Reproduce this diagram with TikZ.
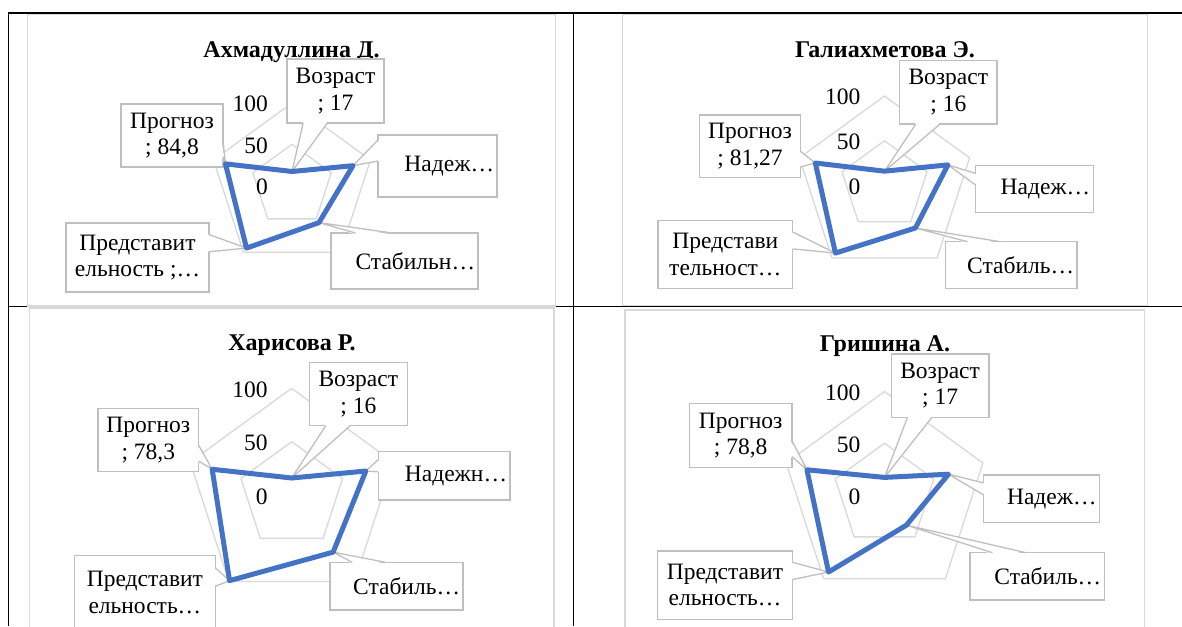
\documentclass[tikz,border=0pt]{standalone}
\usepackage{fontspec}
\setmainfont{Liberation Serif}
\usetikzlibrary{calc}
\definecolor{gridc}{HTML}{D9D9D9}
\definecolor{boxc}{HTML}{BFBFBF}
\definecolor{serc}{HTML}{4472C4}
\tikzset{
  tline/.style={draw=black, line width=1.7pt},
  chartframe/.style={draw=gridc, line width=1.5pt, fill=white},
  gridl/.style={draw=gridc, line width=1.3pt, line join=round},
  axl/.style={anchor=east, inner sep=0pt, font=\fontsize{23.5}{26.5}\selectfont},
  ttl/.style={anchor=base, inner sep=0pt, font=\fontsize{24}{28}\selectfont\bfseries},
  cb/.style={draw=boxc, fill=white, line width=1.3pt, align=center, inner sep=0pt, outer sep=0pt, font=\fontsize{23.5}{26.5}\selectfont},
  cline/.style={draw=boxc, line width=1.3pt, line join=round},
  serl/.style={draw=serc, line width=5pt, line join=round, line cap=round},
}
% generic wedge tail of a callout
\newcommand\calltail[6]{%
  \fill[white] ($(#1)!#3!(#2)+(#6)$) -- (#5) -- ($(#1)!#4!(#2)+(#6)$) -- cycle;
  \draw[cline] ($(#1)!#3!(#2)$) -- (#5) -- ($(#1)!#4!(#2)$);}
\newcommand\tailBot[4]{\calltail{#1.south west}{#1.south east}{#2}{#3}{#4}{0,-1.5}}
\newcommand\tailTop[4]{\calltail{#1.north west}{#1.north east}{#2}{#3}{#4}{0,1.5}}
\newcommand\tailLeft[4]{\calltail{#1.north west}{#1.south west}{#2}{#3}{#4}{1.5,0}}
\newcommand\tailRight[4]{\calltail{#1.north east}{#1.south east}{#2}{#3}{#4}{-1.5,0}}
% radar grid + data coordinates
\newcommand\radar[9]{%
  \begin{scope}[shift={(#2,#3)}]
    \draw[gridl] ({-90}:{#4/2}) -- ({-18}:{#4/2}) -- ({54}:{#4/2}) -- ({126}:{#4/2}) -- ({198}:{#4/2}) -- cycle;
    \draw[gridl] ({-90}:{#4}) -- ({-18}:{#4}) -- ({54}:{#4}) -- ({126}:{#4}) -- ({198}:{#4}) -- cycle;
    \node[axl] (#1-l0) at (-24,1.5) {0};
    \node[axl] (#1-l50) at (-24,{-#4/2+1.5}) {50};
    \node[axl] (#1-l100) at (-24,{-#4+1}) {100};
    \coordinate (#1-1) at ({-90}:{#4*#5/100});
    \coordinate (#1-2) at ({-18}:{#4*#6/100});
    \coordinate (#1-3) at ({54}:{#4*#7/100});
    \coordinate (#1-4) at ({126}:{#4*#8/100});
    \coordinate (#1-5) at ({198}:{#4*#9/100});
  \end{scope}}
\newcommand\series[1]{\draw[serl] (#1-1) -- (#1-2) -- (#1-3) -- (#1-4) -- (#1-5) -- cycle;}

\begin{document}
\begin{tikzpicture}[x=1pt, y=-1pt]
\useasboundingbox (0,0) rectangle (1182,626);
\fill[white] (0,0) rectangle (1182,626);

% table rules
\draw[tline] (8.5,626) -- (8.5,13.2) -- (1182,13.2);
\draw[tline] (573.5,13.2) -- (573.5,626);
\draw[tline] (8.5,306.5) -- (1182,306.5);

% chart frames
\draw[chartframe] (27.5,14.6) rectangle (555.5,305.8);
\draw[chartframe] (622.5,14.6) rectangle (1147.5,305.6);
\draw[chartframe] (29.5,308.2) rectangle (554,640);
\draw[chartframe] (625,309.8) rectangle (1144.7,640);

% ---------------- chart A ----------------
\radar{A}{292}{185.5}{82.5}{17}{77.7}{55.6}{93.8}{84.8}
\node[ttl] (At) at (291.5,57) {Ахмадуллина Д.};
\node[cb, minimum width=97pt, minimum height=64pt] (Aa) at (335.5,91) {Возраст\\; 17};
\node[cb, minimum width=102pt, minimum height=63pt] (Ab) at (172,135.5) {Прогноз\\; 84,8};
\node[cb, text width=113pt, align=right, inner xsep=3pt, minimum height=62pt] (Ac) at (437.5,166) {Надеж…};
\node[cb, text width=141pt, align=right, inner xsep=3pt, minimum height=56pt] (Ad) at (404.5,261) {Стабильн…};
\node[cb, minimum width=143pt, minimum height=69pt] (Ae) at (137.5,257.5) {Представит\\ельность ;…};
\tailBot{Aa}{0.1667}{0.4167}{A-1}
\tailRight{Ab}{0.5833}{0.8333}{A-5}
\tailLeft{Ac}{0.08}{0.42}{A-2}
\tailTop{Ad}{0.1667}{0.4167}{A-3}
\tailRight{Ae}{0.1667}{0.4167}{A-4}
\series{A}

% ---------------- chart B ----------------
\radar{B}{884.5}{185.5}{89.5}{16}{74.5}{58.7}{93.3}{81.27}
\node[ttl] (Bt) at (885,57.3) {Галиахметова Э.};
\node[cb, minimum width=97.4pt, minimum height=63.3pt] (Ba) at (948.3,92.35) {Возраст\\; 16};
\node[cb, minimum width=101.1pt, minimum height=62.3pt] (Bb) at (750.05,146.15) {Прогноз\\; 81,27};
\node[cb, text width=111.4pt, align=right, inner xsep=3pt, minimum height=46.6pt] (Bc) at (1034.5,189) {Надеж…};
\node[cb, text width=125.4pt, align=right, inner xsep=3pt, minimum height=46.6pt] (Bd) at (1011.3,265) {Стабиль…};
\node[cb, minimum width=134.7pt, minimum height=67.6pt] (Be) at (725.35,254.5) {Представи\\тельност…};
\tailBot{Ba}{0.1667}{0.4167}{B-1}
\tailRight{Bb}{0.5833}{0.8333}{B-5}
\tailLeft{Bc}{0.1667}{0.4167}{B-2}
\tailTop{Bd}{0.1667}{0.4167}{B-3}
\tailRight{Be}{0.1667}{0.4167}{B-4}
\series{B}

% ---------------- chart C ----------------
\radar{C}{291.7}{495.1}{106.8}{16}{73}{66}{99}{78.3}
\node[ttl] (Ct) at (292,350) {Харисова Р.};
\node[cb, minimum width=97.8pt, minimum height=63.4pt] (Ca) at (358.3,394) {Возраст\\; 16};
\node[cb, minimum width=100.8pt, minimum height=63.4pt] (Cb) at (148.3,440) {Прогноз\\; 78,3};
\node[cb, text width=125.8pt, align=right, inner xsep=3pt, minimum height=48.3pt] (Cc) at (444.1,475.85) {Надежн…};
\node[cb, text width=127pt, align=right, inner xsep=3pt, minimum height=47.7pt] (Cd) at (396.5,586.15) {Стабиль…};
\node[cb, minimum width=140.8pt, minimum height=73.3pt] (Ce) at (144.9,592.35) {Представит\\ельность…};
\tailBot{Ca}{0.1667}{0.4167}{C-1}
\tailRight{Cb}{0.5833}{0.8333}{C-5}
\tailLeft{Cc}{0.1667}{0.4167}{C-2}
\tailTop{Cd}{0.1667}{0.4167}{C-3}
\tailRight{Ce}{0.1667}{0.4167}{C-4}
\series{C}

% ---------------- chart D ----------------
\radar{D}{884.5}{495}{103.5}{17}{65}{36}{92}{78.8}
\node[ttl] (Dt) at (885,351.7) {Гришина А.};
\node[cb, minimum width=97.8pt, minimum height=63.3pt] (Da) at (940.1,385.65) {Возраст\\; 17};
\node[cb, minimum width=102.7pt, minimum height=63.6pt] (Db) at (740.65,435.5) {Прогноз\\; 78,8};
\node[cb, text width=110.2pt, align=right, inner xsep=3pt, minimum height=47.3pt] (Dc) at (1041.5,498.65) {Надеж…};
\node[cb, text width=128.1pt, align=right, inner xsep=3pt, minimum height=47.3pt] (Dd) at (1037.15,576.35) {Стабиль…};
\node[cb, minimum width=135.5pt, minimum height=68.3pt] (De) at (724.95,585.15) {Представит\\ельность…};
\tailBot{Da}{0.1667}{0.4167}{D-1}
\tailRight{Db}{0.5833}{0.8333}{D-5}
\tailLeft{Dc}{0.1667}{0.4167}{D-2}
\tailTop{Dd}{0.1667}{0.4167}{D-3}
\tailRight{De}{0.1667}{0.4167}{D-4}
\series{D}
\end{tikzpicture}
\end{document}
